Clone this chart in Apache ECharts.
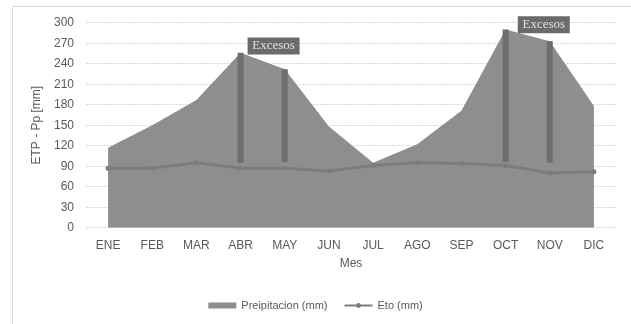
<!DOCTYPE html>
<html><head><meta charset="utf-8">
<script src="https://cdn.jsdelivr.net/npm/echarts@6/dist/echarts.min.js"></script>
<style>
html,body{margin:0;padding:0;background:#fff;}
#frame{position:absolute;left:12px;top:6px;width:640px;height:340px;border:1px solid #d9d9d9;box-sizing:border-box;}
#c{position:absolute;left:0;top:0;width:631px;height:324px;}
</style></head>
<body><div id="frame"></div><div id="c"></div>
<script>
const months = ['ENE','FEB','MAR','ABR','MAY','JUN','JUL','AGO','SEP','OCT','NOV','DIC'];
const precip = [117,150,187,256,232,148,95,122,171,290,273,178];
const eto = [87,87,95,87,87,83,91,95,94,91,80,82];
const excessMonths = ['ABR','MAY','OCT','NOV'];
const excessLow = [95,96,96,95];
const excessHigh = [256,232,290,273];
const yTicks = [0,30,60,90,120,150,180,210,240,270,300];
const annotations = [{month:'ABR', value:266, offset:33, text:'Excesos'},{month:'NOV', value:297, offset:-6, text:'Excesos'}];

const chart = echarts.init(document.getElementById('c'), null, {renderer:'canvas'});
const font = 'Liberation Sans, Arial, sans-serif';
chart.setOption({
  animation:false,
  grid:{left:86,right:15,top:22.7,bottom:96.3},
  legend:{
    bottom:8, left:'center', itemGap:16,
    textStyle:{color:'#595959',fontSize:11,fontFamily:font},
    data:[{name:'Preipitacion (mm)',icon:'rect'},{name:'Eto (mm)'}],
    itemWidth:28, itemHeight:6
  },
  xAxis:{
    type:'category', data:months, boundaryGap:true,
    name:'Mes', nameLocation:'middle', nameGap:30,
    nameTextStyle:{color:'#595959',fontSize:12,fontFamily:font},
    axisLine:{show:false}, axisTick:{show:false},
    axisLabel:{color:'#595959',fontSize:12,fontFamily:font,margin:12}
  },
  yAxis:{
    type:'value', min:yTicks[0], max:yTicks[yTicks.length-1], interval:30,
    name:'ETP - Pp [mm]', nameLocation:'middle', nameGap:30,
    nameTextStyle:{color:'#595959',fontSize:12,fontFamily:font},
    axisLine:{show:false}, axisTick:{show:false},
    axisLabel:{color:'#595959',fontSize:12,fontFamily:font,margin:12},
    splitLine:{lineStyle:{color:'#d9d9d9',type:[2,1],width:1}}
  },
  series:[
    {
      name:'Preipitacion (mm)', type:'line', data:precip, symbol:'none',
      lineStyle:{width:0,color:'#8e8e8e'}, itemStyle:{color:'#8e8e8e'},
      areaStyle:{color:'#8e8e8e',opacity:1}, z:1
    },
    {
      name:'excess', type:'custom', z:3,
      data: excessMonths.map((m,i)=>[months.indexOf(m), excessLow[i], excessHigh[i]]),
      renderItem:function(params, api){
        const x = api.value(0);
        const p1 = api.coord([x, api.value(1)]);
        const p2 = api.coord([x, api.value(2)]);
        return {type:'rect', shape:{x:p1[0]-3, y:p2[1], width:6, height:p1[1]-p2[1]}, style:{fill:'#6e6e6e'}};
      },
      tooltip:{show:false}
    },
    {
      name:'Eto (mm)', type:'line', data:eto, symbol:'circle', symbolSize:5,
      lineStyle:{width:3,color:'#7c7c7c'}, itemStyle:{color:'#7c7c7c'}, z:4,
      markPoint:{
        symbol:'rect', symbolSize:[52,17],
        itemStyle:{color:'#6b6b6b'},
        label:{show:true,color:'#e0e0e0',fontFamily:'Liberation Serif, Times New Roman, serif',fontSize:13,formatter:'{b}'},
        data: annotations.map(a=>({name:a.text, coord:[a.month, a.value], symbolOffset:[a.offset,0]}))
      }
    }
  ]
});
</script></body></html>
